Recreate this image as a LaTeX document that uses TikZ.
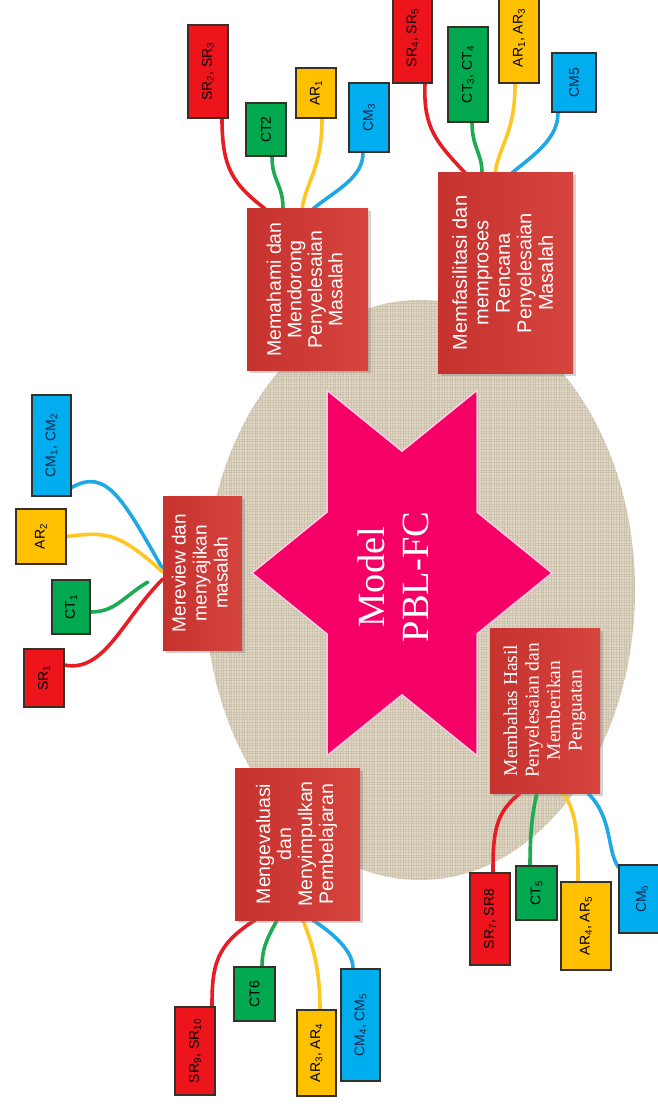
\documentclass[tikz,border=0pt]{standalone}
\usepackage{fontspec}
\setmainfont{Liberation Serif}
\setsansfont{Liberation Sans}
\usepackage{graphicx}
\usetikzlibrary{calc,shadows,patterns.meta}

\definecolor{linen}{RGB}{224,215,197}
\definecolor{linenweave}{RGB}{205,194,174}
\definecolor{starpink}{RGB}{245,0,102}
\definecolor{starrim}{RGB}{255,205,225}
\definecolor{stepred}{RGB}{198,50,46}
\definecolor{stepredlight}{RGB}{214,68,62}
\definecolor{tagred}{RGB}{238,20,28}
\definecolor{taggreen}{RGB}{0,168,80}
\definecolor{tagyellow}{RGB}{255,192,0}
\definecolor{tagblue}{RGB}{0,174,239}
\definecolor{wirered}{RGB}{232,28,36}
\definecolor{wiregreen}{RGB}{28,170,82}
\definecolor{wireyellow}{RGB}{255,198,36}
\definecolor{wireblue}{RGB}{30,168,230}
\definecolor{tagrim}{RGB}{55,48,40}
\definecolor{navy}{RGB}{25,35,70}

% text set sideways, reading upwards
\newcommand\uprot[1]{\rotatebox{90}{\begin{tabular}{@{}c@{}}#1\end{tabular}}}
\newcommand\sbs[1]{\textsubscript{#1}}

\pgfdeclarelayer{bg}
\pgfdeclarelayer{wires}
\pgfsetlayers{bg,wires,main}

\tikzset{
  stepbox/.style={rectangle, inner sep=0pt, text=white,
    left color=stepred, right color=stepredlight,
    drop shadow={opacity=0.35, shadow xshift=2.5pt, shadow yshift=-2.5pt}},
  tag/.style={rectangle, inner sep=0pt, draw=tagrim, line width=1.1pt,
    font=\sffamily\fontsize{14}{16}\selectfont, text=black},
  tagR/.style={tag, fill=tagred},
  tagG/.style={tag, fill=taggreen},
  tagY/.style={tag, fill=tagyellow},
  tagB/.style={tag, fill=tagblue, text=navy},
  wire/.style={line width=3.6pt, line cap=round},
  wR/.style={wire, draw=wirered},
  wG/.style={wire, draw=wiregreen},
  wY/.style={wire, draw=wireyellow},
  wB/.style={wire, draw=wireblue},
}

\begin{document}
\begin{tikzpicture}[x=1pt,y=-1pt]
\useasboundingbox (0,0) rectangle (657,1107);

% linen backdrop
\begin{pgfonlayer}{bg}
  \fill[linen] (420,590) ellipse [x radius=215, y radius=290];
  \fill[pattern={Hatch[angle=0,distance=2.6pt,line width=0.4pt]}, pattern color=linenweave]
    (420,590) ellipse [x radius=215, y radius=290];
\end{pgfonlayer}

% six-pointed star
\path[fill=starpink, draw=starrim, line width=1.5pt]
  (552,573) -- (477,633.9) -- (477,755.7) -- (402,694.8) -- (327,755.7) -- (327,633.9)
  -- (252,573) -- (327,512.1) -- (327,390.3) -- (402,451.2) -- (477,390.3) -- (477,512.1) -- cycle;
\node[text=white, font=\rmfamily\fontsize{38.5}{44}\selectfont] (core) at (398,577) {\uprot{Model\\PBL-FC}};

% phase boxes
\node[stepbox, minimum width=79pt, minimum height=154pt,
      font=\sffamily\fontsize{19}{21}\selectfont] (b1) at (202.5,573)
  {\uprot{Mereview dan\\menyajikan\\masalah}};
\node[stepbox, minimum width=121pt, minimum height=161pt,
      font=\sffamily\fontsize{19.5}{20.5}\selectfont] (b2) at (307.5,289.5)
  {\uprot{Memahami dan\\Mendorong\\Penyelesaian\\Masalah}};
\node[stepbox, minimum width=135pt, minimum height=200pt,
      font=\sffamily\fontsize{20}{21.5}\selectfont] (b3) at (505.5,273)
  {\uprot{Memfasilitasi dan\\memproses\\Rencana\\Penyelesaian\\Masalah}};
\node[stepbox, minimum width=110pt, minimum height=165pt,
      font=\rmfamily\fontsize{19.5}{21.5}\selectfont] (b4) at (545,710.5)
  {\uprot{Membahas Hasil\\Penyelesaian dan\\Memberikan\\Penguatan}};
\node[stepbox, minimum width=125pt, minimum height=152pt,
      font=\sffamily\fontsize{19.5}{21}\selectfont] (b5) at (297.5,844)
  {\uprot{Mengevaluasi\\dan\\Menyimpulkan\\Pembelajaran}};

% indicator tags, phase 1
\node[tagB, minimum width=39pt, minimum height=101pt] (cm1) at (51.5,445.5) {\rotatebox{90}{CM\sbs{1}, CM\sbs{2}}};
\node[tagY, minimum width=50pt, minimum height=55pt] (ar1) at (41,536.5) {\rotatebox{90}{AR\sbs{2}}};
\node[tagG, minimum width=38pt, minimum height=54pt] (ct1) at (71,607) {\rotatebox{90}{CT\sbs{1}}};
\node[tagR, minimum width=40pt, minimum height=58pt] (sr1) at (44,678) {\rotatebox{90}{SR\sbs{1}}};

% phase 2
\node[tagR, minimum width=40pt, minimum height=93pt] (sr2) at (208,71.5) {\rotatebox{90}{SR\sbs{2}, SR\sbs{3}}};
\node[tagG, minimum width=40pt, minimum height=53pt] (ct2) at (266,129.5) {\rotatebox{90}{CT2}};
\node[tagY, minimum width=40pt, minimum height=50pt] (ar2) at (316,93) {\rotatebox{90}{AR\sbs{1}}};
\node[tagB, minimum width=40pt, minimum height=69pt] (cm2) at (369,117.5) {\rotatebox{90}{CM\sbs{3}}};

% phase 3
\node[tagR, minimum width=39pt, minimum height=90pt] (sr3) at (412.5,38) {\rotatebox{90}{SR\sbs{4}, SR\sbs{5}}};
\node[tagG, minimum width=40pt, minimum height=95pt] (ct3) at (468,74.5) {\rotatebox{90}{CT\sbs{3}, CT\sbs{4}}};
\node[tagY, minimum width=40pt, minimum height=90pt] (ar3) at (519,38) {\rotatebox{90}{AR\sbs{1}, AR\sbs{3}}};
\node[tagB, minimum width=44pt, minimum height=59pt] (cm3) at (574,82.5) {\rotatebox{90}{CM5}};

% phase 4
\node[tagR, minimum width=40pt, minimum height=92pt] (sr4) at (490,919) {\rotatebox{90}{SR\sbs{7}, SR8}};
\node[tagG, minimum width=41pt, minimum height=54pt] (ct4) at (536.5,893) {\rotatebox{90}{CT\sbs{5}}};
\node[tagY, minimum width=50pt, minimum height=88pt] (ar4) at (586,926) {\rotatebox{90}{AR\sbs{4}, AR\sbs{5}}};
\node[tagB, minimum width=46pt, minimum height=68pt] (cm4) at (642,899) {\rotatebox{90}{CM\sbs{6}}};

% phase 5
\node[tagR, minimum width=40pt, minimum height=88pt] (sr5) at (195,1051) {\rotatebox{90}{SR\sbs{9}, SR\sbs{10}}};
\node[tagG, minimum width=41pt, minimum height=54pt] (ct5) at (254.5,994) {\rotatebox{90}{CT6}};
\node[tagY, minimum width=39pt, minimum height=86pt] (ar5) at (316.5,1053) {\rotatebox{90}{AR\sbs{3}, AR\sbs{4}}};
\node[tagB, minimum width=39pt, minimum height=112pt] (cm5) at (360.5,1025) {\rotatebox{90}{CM\sbs{4}, CM\sbs{5}}};

\coordinate (g1end) at ([xshift=-15pt,yshift=-9pt]b1.west);

% connectors
\begin{pgfonlayer}{wires}
  % phase 1
  \draw[wB] ([yshift=9pt]cm1.south east) .. controls +(35,-20) and +(-40,-70) .. ([yshift=4pt]b1.west);
  \draw[wY] (ar1.east) .. controls +(40,-5) and +(-45,-40) .. ([yshift=1pt]b1.west);
  \draw[wG] ([yshift=-5pt]ct1.east) .. controls +(25,0) and +(-25,15) .. (g1end);
  \draw[wR] ([yshift=13pt]sr1.east) .. controls +(40,8) and +(-40,40) .. ([yshift=-6pt]b1.west);
  % phase 2
  \draw[wR] ([xshift=14pt]sr2.south) .. controls +(0,50) and +(-32,-25) .. ([xshift=-42.5pt]b2.north);
  \draw[wG] ([xshift=6pt]ct2.south) .. controls +(0,25) and +(0,-25) .. ([xshift=-24.5pt]b2.north);
  \draw[wY] ([xshift=6pt]ar2.south) .. controls +(0,50) and +(5,-30) .. ([xshift=-5.5pt]b2.north);
  \draw[wB] ([xshift=-6pt]cm2.south) .. controls +(0,25) and +(25,-20) .. ([xshift=5.5pt]b2.north);
  % phase 3
  \draw[wR] ([xshift=12.5pt]sr3.south) .. controls +(-2,45) and +(-28,-30) .. ([xshift=-40.5pt]b3.north);
  \draw[wG] ([xshift=4pt]ct3.south) .. controls +(0,25) and +(0,-20) .. ([xshift=-23.5pt]b3.north);
  \draw[wY] ([xshift=-4pt]ar3.south) .. controls +(0,50) and +(5,-30) .. ([xshift=-10.5pt]b3.north);
  \draw[wB] ([xshift=-16pt]cm3.south) .. controls +(0,25) and +(25,-20) .. ([xshift=6.5pt]b3.north);
  % phase 4
  \draw[wR] ([xshift=-25pt]b4.south) .. controls +(-25,20) and +(0,-40) .. ([xshift=3pt]sr4.north);
  \draw[wG] ([xshift=-8pt]b4.south) .. controls +(-5,20) and +(0,-30) .. ([xshift=-6.5pt]ct4.north);
  \draw[wY] ([xshift=18pt]b4.south) .. controls +(15,20) and +(0,-40) .. ([xshift=-8pt]ar4.north);
  \draw[wB] ([xshift=43pt]b4.south) .. controls +(25,25) and +(-12,-18) .. ([yshift=-3pt]cm4.north west);
  % phase 5
  \draw[wR] ([xshift=-42.5pt]b5.south) .. controls +(-40,25) and +(0,-40) .. ([xshift=17pt]sr5.north);
  \draw[wG] ([xshift=-20.5pt]b5.south) .. controls +(-8,15) and +(0,-20) .. ([xshift=7.5pt]ct5.north);
  \draw[wY] ([xshift=5.5pt]b5.south) .. controls +(10,25) and +(0,-40) .. ([xshift=3.5pt]ar5.north);
  \draw[wB] ([xshift=15.5pt]b5.south) .. controls +(15,10) and +(0,-20) .. ([xshift=-7.5pt]cm5.north);
\end{pgfonlayer}
\end{tikzpicture}
\end{document}
